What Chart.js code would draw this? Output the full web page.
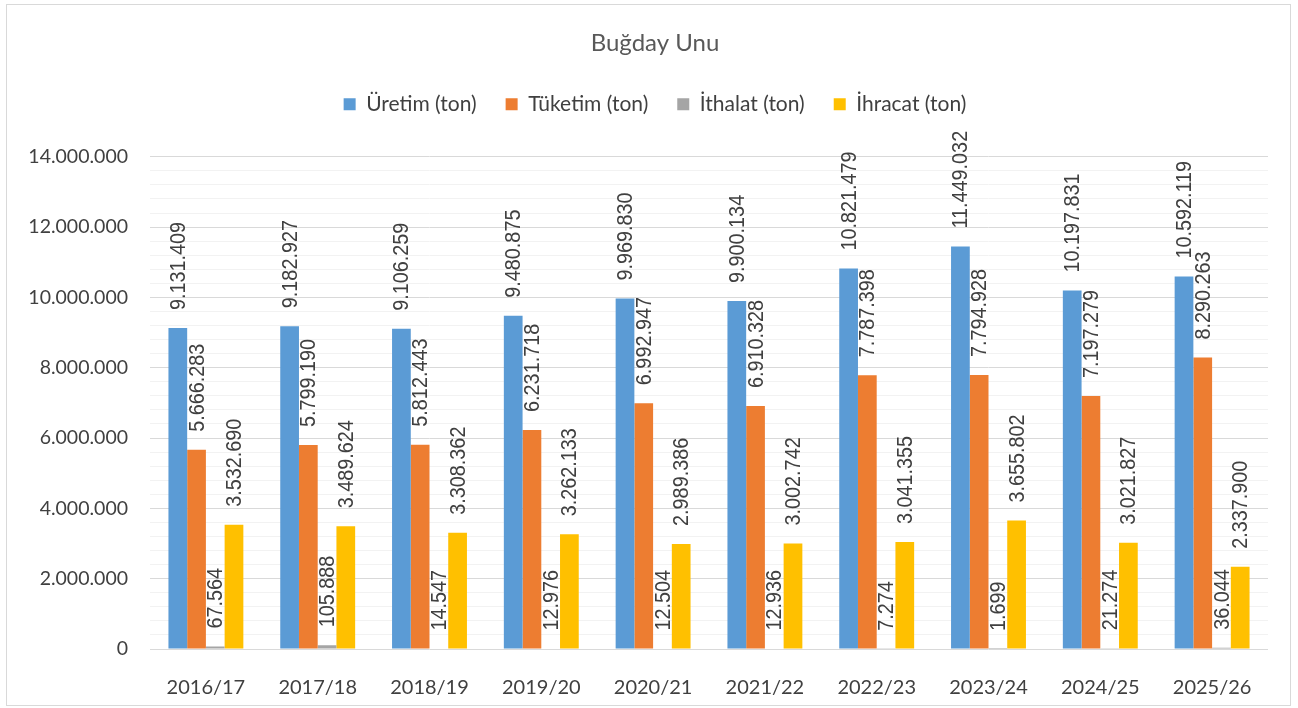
<!DOCTYPE html>
<html>
<head>
<meta charset="utf-8">
<script src="https://cdn.jsdelivr.net/npm/chart.js@4/dist/chart.umd.min.js"></script>
<style>
  body { margin: 0; background: #fff; }
  #wrap { position: absolute; left: 0; top: 0; width: 1298px; height: 708px; }
  #frame { position: absolute; left: 6px; top: 4px; width: 1283px; height: 700px; border: 1px solid #d9d9d9; pointer-events: none; }
</style>
</head>
<body>
<div id="wrap">
  <canvas id="bars" width="1298" height="708"></canvas>
  <div id="frame"></div>
</div>
<script>
const years = ['2016/17', '2017/18', '2018/19', '2019/20', '2020/21', '2021/22', '2022/23', '2023/24', '2024/25', '2025/26'];
const uretim = [9131409, 9182927, 9106259, 9480875, 9969830, 9900134, 10821479, 11449032, 10197831, 10592119];
const tuketim = [5666283, 5799190, 5812443, 6231718, 6992947, 6910328, 7787398, 7794928, 7197279, 8290263];
const ithalat = [67564, 105888, 14547, 12976, 12504, 12936, 7274, 1699, 21274, 36044];
const ihracat = [3532690, 3489624, 3308362, 3262133, 2989386, 3002742, 3041355, 3655802, 3021827, 2337900];

const fmt = v => String(v).replace(/\B(?=(\d{3})+(?!\d))/g, '.');

// rotated value labels above each bar
const barLabels = {
    id: 'barLabels',
    afterDatasetsDraw(chart) {
        const ctx = chart.ctx;
        ctx.save();
        ctx.fillStyle = '#404040';
        ctx.font = '22px "Liberation Sans", sans-serif';
        ctx.textAlign = 'left';
        ctx.textBaseline = 'middle';
        chart.data.datasets.forEach((ds, i) => {
            chart.getDatasetMeta(i).data.forEach((bar, j) => {
                ctx.save();
                ctx.translate(bar.x + 1, bar.y - 18);
                ctx.rotate(-Math.PI / 2);
                ctx.scale(0.9, 1); // narrow look
                ctx.fillText(fmt(ds.data[j]), 0, 0);
                ctx.restore();
            });
        });
        ctx.restore();
    }
};

// extra room under the legend, and nudge title + legend a bit right
const legendSpace = {
    id: 'legendSpace',
    beforeInit(chart) {
        const fit = chart.legend.fit;
        chart.legend.fit = function () {
            fit.bind(chart.legend)();
            this.height += 32;
        };
    },
    afterLayout(chart) {
        [chart.titleBlock, chart.legend].forEach(b => {
            b.left += 16;
            b.right += 16;
        });
    }
};

document.addEventListener('DOMContentLoaded', () => {
    const ctx = document.getElementById('bars').getContext('2d');

    const data = {
        labels: years,
        datasets: [
            { label: 'Üretim (ton)', data: uretim, backgroundColor: '#5b9bd5' },
            { label: 'Tüketim (ton)', data: tuketim, backgroundColor: '#ed7d31' },
            { label: 'İthalat (ton)', data: ithalat, backgroundColor: '#a5a5a5' },
            { label: 'İhracat (ton)', data: ihracat, backgroundColor: '#ffc000' }
        ]
    };

    const config = {
        type: 'bar',
        data: data,
        options: {
            responsive: false,
            animation: false,
            categoryPercentage: 0.67,
            barPercentage: 1.0,
            layout: { padding: { left: 10, right: 30, top: 0, bottom: 0 } },
            plugins: {
                title: {
                    display: true,
                    text: 'Buğday Unu',
                    color: '#595959',
                    font: { family: 'Lato', size: 24, weight: 'normal' },
                    padding: { top: 29, bottom: 7 }
                },
                legend: {
                    labels: {
                        color: '#404040',
                        font: { family: 'Lato', size: 21 },
                        boxWidth: 12,
                        boxHeight: 12,
                        padding: 29
                    }
                },
                tooltip: { enabled: false }
            },
            scales: {
                x: {
                    grid: { display: false },
                    border: { display: false },
                    ticks: {
                        color: '#404040',
                        font: { family: 'Lato', size: 20 },
                        padding: 19
                    },
                    afterFit(scale) { scale.height = 59; }
                },
                y: {
                    min: 0,
                    max: 14000000,
                    border: { display: false },
                    grid: {
                        drawTicks: false,
                        color: c => (c.tick && c.tick.value % 2000000 === 0) ? '#d9d9d9' : '#f2f2f2'
                    },
                    ticks: {
                        stepSize: 400000,
                        autoSkip: false,
                        color: '#404040',
                        font: { family: 'Lato', size: 19.5 },
                        padding: 22,
                        callback: v => v % 2000000 === 0 ? fmt(v) : ''
                    },
                    afterFit(scale) { scale.width = 140; }
                }
            }
        },
        plugins: [barLabels, legendSpace]
    };

    new Chart(ctx, config);
});
</script>
</body>
</html>
